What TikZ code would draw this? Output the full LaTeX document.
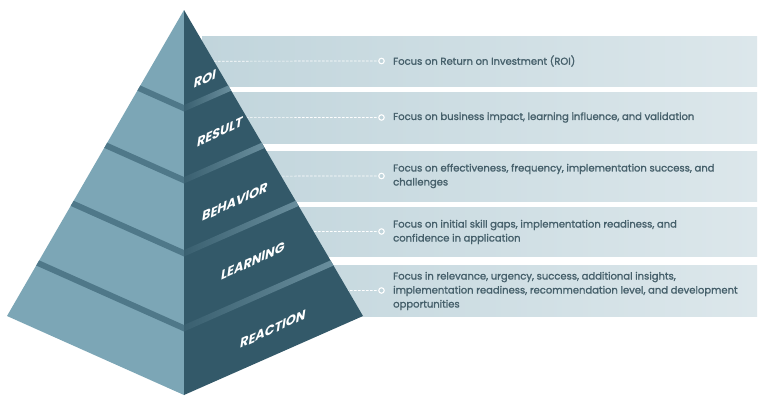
\documentclass[tikz,border=0pt]{standalone}
\usepackage{fontspec}
\setmainfont{Poppins}
\newfontfamily\bodyfont{Poppins}[FakeBold=1.4]
\definecolor{leftface}{HTML}{7CA6B6}
\definecolor{leftband}{HTML}{4F7889}
\definecolor{rightface}{HTML}{335969}
\definecolor{rightbandA}{HTML}{3A6070}
\definecolor{rightbandB}{HTML}{6A8F9E}
\definecolor{boxL}{HTML}{C1D5DC}
\definecolor{boxR}{HTML}{DCE7EB}
\definecolor{txtcol}{HTML}{46606B}
\begin{document}
\begin{tikzpicture}[x=1pt,y=-1pt,
  infobox/.style={draw=none, left color=boxL, right color=boxR, minimum width=555pt, inner sep=0pt, anchor=north west},
  dashln/.style={draw=white, line width=0.7pt, dash pattern=on 2.5pt off 1.5pt},
  dotnode/.style={circle, draw=white, line width=1.1pt, fill=boxL, minimum size=5.5pt, inner sep=0pt},
  infotext/.style={anchor=west, align=left, text=txtcol, font=\bodyfont\fontsize{10}{14}\selectfont, inner sep=0pt},
  lab/.style={text=white, font=\fontsize{14}{14}\selectfont\bfseries, cm={0.91,0.42,0.14,0.99,(0,0)}, inner sep=0pt}
]
\useasboundingbox (0,0) rectangle (768,402);
\fill[white] (0,0) rectangle (768,402);

% info boxes
\node[infobox, minimum height=50pt] (b1) at (202,36) {};
\node[infobox, minimum height=51pt] (b2) at (202,92) {};
\node[infobox, minimum height=50pt] (b3) at (202,151) {};
\node[infobox, minimum height=49pt] (b4) at (202,207) {};
\node[infobox, minimum height=51pt] (b5) at (202,265) {};

% dots
\node[dotnode] (c1) at (381.5,61) {};
\node[dotnode] (c2) at (381.5,117.5) {};
\node[dotnode] (c3) at (381.5,176) {};
\node[dotnode] (c4) at (381.5,231.5) {};
\node[dotnode] (c5) at (381.5,290.5) {};

\foreach \i in {1,...,5} \draw[dashln] (b\i.west) -- (c\i);

% texts
\node[infotext] (t1) at (393,61) {Focus on Return on Investment (ROI)};
\node[infotext] (t2) at (393,117.5) {Focus on business impact, learning influence, and validation};
\node[infotext] (t3) at (393,176) {Focus on effectiveness, frequency, implementation success, and\\challenges};
\node[infotext] (t4) at (393,232) {Focus on initial skill gaps, implementation readiness, and\\confidence in application};
\node[infotext] (t5) at (393,291) {Focus in relevance, urgency, success, additional insights,\\implementation readiness, recommendation level, and development\\opportunities};

% pyramid
\coordinate (A) at (184,10);
\coordinate (L) at (7,316);
\coordinate (B) at (184,395);
\coordinate (R) at (363,316);
\fill[leftface] (A) -- (L) -- (B) -- cycle;
\fill[rightface] (A) -- (B) -- (R) -- cycle;
\begin{scope}
  \clip (A) -- (L) -- (B) -- cycle;
  \foreach \y in {105,177,250,325}
    \fill[leftband] (184,\y) -- (184,\y+6.5) -- (-16,\y+6.5-89.3) -- (-16,\y-89.3) -- cycle;
\end{scope}
\begin{scope}
  \clip (A) -- (B) -- (R) -- cycle;
  \foreach \y in {105,177,250,325}{
    \pgfmathsetmacro{\d}{(\y-10)/2.15+4}
    \pgfmathsetmacro{\dy}{\d*0.441}
    \shade[left color=rightbandA, right color=rightbandB] (184,\y) -- (184,\y+6.5) -- (184+\d,\y+6.5-\dy) -- (184+\d,\y-\dy) -- cycle;
  }
\end{scope}

% labels
\node[lab] (l1) at (205,79) {ROI};
\node[lab] (l2) at (220,132) {RESULT};
\node[lab] (l3) at (235,202) {BEHAVIOR};
\node[lab] (l4) at (253,261) {LEARNING};
\node[lab] (l5) at (273,329) {REACTION};
\end{tikzpicture}
\end{document}
